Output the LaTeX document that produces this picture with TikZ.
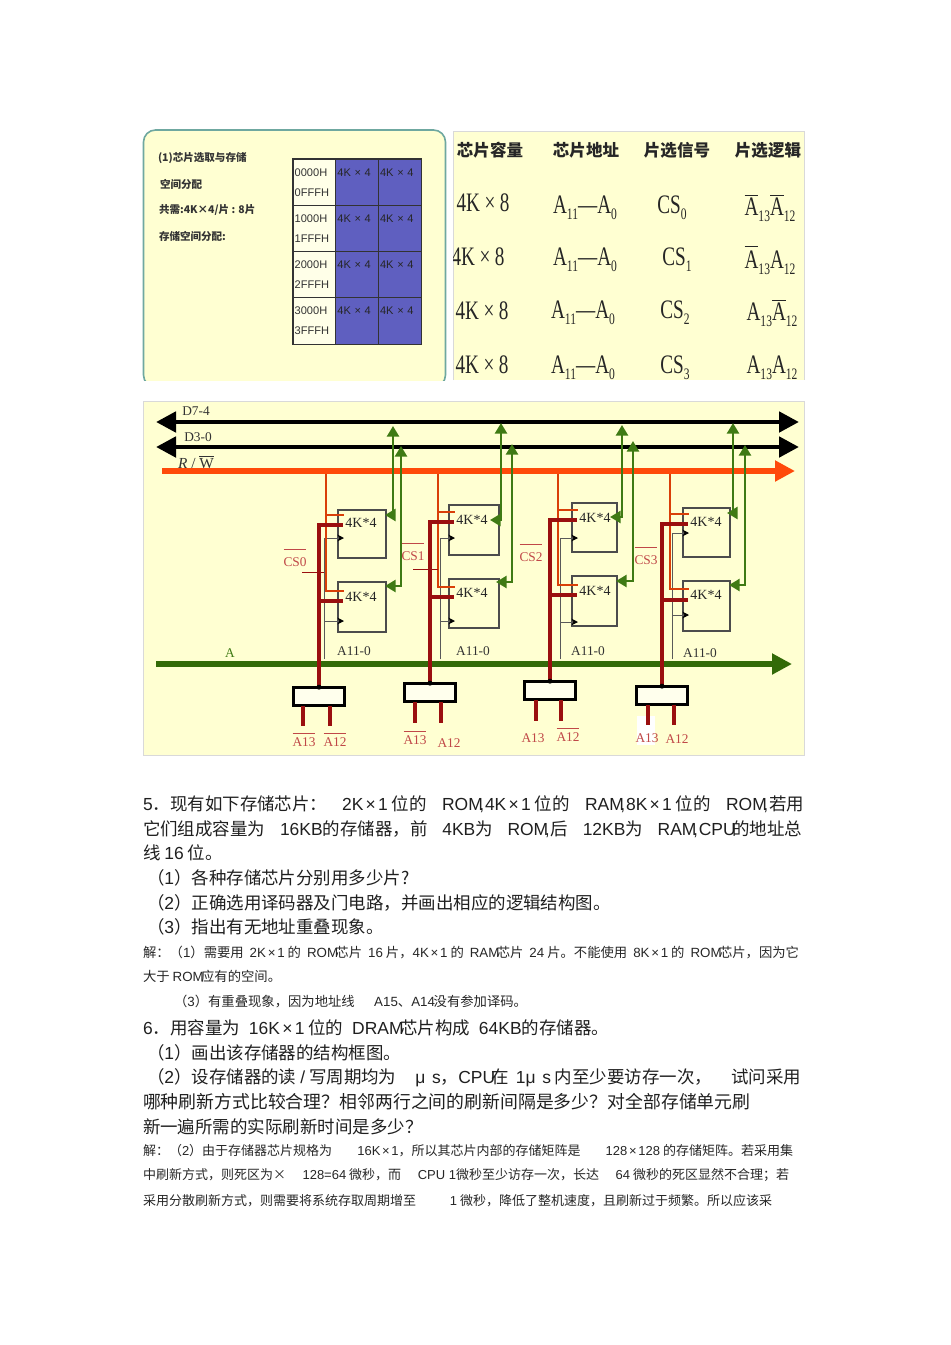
\documentclass[tikz,border=0pt]{standalone}
\usepackage{fontspec}
\usepackage{xcolor}
\usetikzlibrary{arrows.meta}
\setmainfont{Noto Sans CJK SC}
\newfontfamily\latinfont{Liberation Sans}
\newfontfamily\serifont{Liberation Serif}
\newfontfamily\narrowfont[FakeStretch=0.72]{Liberation Serif}
\definecolor{paper}{HTML}{FFFFD2}
\definecolor{slide}{HTML}{6FA8A0}
\definecolor{cellblue}{HTML}{5F5FC0}
\definecolor{rworange}{HTML}{FF4A0A}
\definecolor{csred}{HTML}{9A0F0F}
\definecolor{labred}{HTML}{C04848}
\definecolor{datagreen}{HTML}{3F7A14}
\definecolor{busgreen}{HTML}{336A08}
\newcommand{\lat}[1]{{\latinfont #1}}
\newcommand{\obar}[2]{\vbox{\hrule height .8pt\vskip#1\hbox{#2}}}
\newcommand{\lowsub}[1]{\raisebox{-4.5pt}{\fontsize{12}{12}\selectfont #1}}
\newcommand{\fitline}[2]{\hbox to \dimexpr#1pt*3/4\relax{#2}}
\newcommand{\ovc}{\kern-.2em,\kern.05em}
\newcommand{\xx}{\kern.13em×\kern.13em}
\begin{document}
\begin{tikzpicture}[
    x=0.75pt, y=-0.75pt,
    every node/.style={inner sep=0pt, outer sep=0pt},
    addrcell/.style={draw=black!80, line width=0.8pt, fill=paper!50!white, anchor=north west,
        minimum width=32pt, minimum height=34.8pt, text width=29.5pt, align=left, inner xsep=1.25pt,
        text=black!80, font=\latinfont\fontsize{8.3}{15}\selectfont},
    bluecell/.style={addrcell, fill=cellblue, text=black!85},
    slidetext/.style={anchor=west, font=\bfseries\fontsize{7.9}{10}\selectfont, text=black!80},
    headtext/.style={font=\bfseries\fontsize{12.4}{14}\selectfont, text=black!85},
    bigserif/.style={font=\narrowfont\fontsize{20}{22}\selectfont, text=black!85},
    chip/.style={draw=black!70, line width=0.8pt, anchor=north west},
    chiptext/.style={font=\serifont\fontsize{10.5}{12}\selectfont, text=black!85},
    buslab/.style={font=\serifont\fontsize{10}{12}\selectfont, text=black!80},
    cslab/.style={font=\serifont\fontsize{10}{12}\selectfont, text=labred},
    databus/.style={line width=3.6pt, black, {Triangle[length=15pt,width=15pt]}-{Triangle[length=15pt,width=15pt]}},
    rwbus/.style={line width=4.6pt, rworange, -{Triangle[length=15pt,width=15pt]}},
    abus/.style={line width=4.4pt, busgreen, -{Triangle[length=15pt,width=15pt]}},
    rwwire/.style={line width=1.8pt, rworange!85!black},
    cswire/.style={line width=2.9pt, csred},
    addrwire/.style={line width=0.7pt, black!65, -{Stealth[length=5pt,width=5pt,color=black]}},
    datawire/.style={line width=1.9pt, datagreen, {Triangle[length=8pt,width=9pt]}-{Triangle[length=8pt,width=9pt]}},
    decoder/.style={draw=black, line width=2.4pt, fill=paper!40!white, minimum width=38pt, minimum height=14pt},
    bigline/.style={anchor=west, font=\fontsize{13.1}{15}\selectfont, text=black!88},
    smallline/.style={anchor=west, font=\fontsize{10}{12}\selectfont, text=black!85},
    tightline/.style={smallline, font=\fontsize{9.75}{12}\selectfont}
]
\useasboundingbox (0,0) rectangle (950,1345);

\begin{scope}
\clip (140,125) rectangle (449,380);
\draw[draw=slide, line width=1.2pt, fill=paper, rounded corners=9pt] (143.5,130) rectangle (445.5,387);
\end{scope}
\node[slidetext] (tx1) at (158,158) {(1)芯片选取与存储};
\node[slidetext] (tx2) at (160,184) {空间分配};
\node[slidetext] (tx3) at (159,210) {共需:4K×4/片 : 8片};
\node[slidetext] (tx4) at (159,236) {存储空间分配:};
\foreach \r/\yy/\adda/\addb in {0/159/0000H/0FFFH, 1/205.3/1000H/1FFFH, 2/251.6/2000H/2FFFH, 3/297.9/3000H/3FFFH} {
    \node[addrcell] (addr\r) at (293,\yy) {\adda\\\addb};
    \node[bluecell] (bla\r) at (335.7,\yy) {4K × 4\\~};
    \node[bluecell] (blb\r) at (378.4,\yy) {4K × 4\\~};
}

\fill[paper] (453,131) rectangle (804,380);
\draw[black!15] (453,380) -- (453,131) -- (804,131) -- (804,380);
\node[headtext] (hd1) at (490,150) {芯片容量};
\node[headtext] (hd2) at (586,150) {芯片地址};
\node[headtext] (hd3) at (677,150) {片选信号};
\node[headtext] (hd4) at (768,150) {片选逻辑};
\begin{scope}
\clip (453,131) rectangle (804,380);
\foreach \r/\xa/\xb/\xc/\xd/\ya/\yb/\num/\sela/\selb in {
    0/483/585/672/770/203/208/0/{\obar{1.5pt}{A}}/{\obar{1.5pt}{A}},
    1/478/585/677/770/257/260/1/{\obar{3pt}{A}}/A,
    2/482/583/675/772/311/313/2/A/{\obar{1.5pt}{A}},
    3/482/583/675/772/365/368/3/A/A} {
    \node[bigserif] (cap\r) at (\xa,\ya) {4K\,×\,8};
    \node[bigserif] (adr\r) at (\xb,\yb) {A\lowsub{11}—A\lowsub{0}};
    \node[bigserif] (sig\r) at (\xc,\yb) {CS\lowsub{\num}};
    \node[bigserif] (sel\r) at (\xd,\yb) {\sela\lowsub{13}\selb\lowsub{12}};
}
\end{scope}

\draw[draw=black!15, fill=paper] (143,401) rectangle (804,755);
\fill[white] (637,716) rectangle (655,745);
\coordinate (d7l) at (156,422);
\coordinate (d7r) at (799,422);
\coordinate (d3l) at (156,447);
\coordinate (d3r) at (799,447);
\coordinate (rwl) at (162,471);
\coordinate (rwr) at (795,471);
\coordinate (al) at (156,664);
\coordinate (ar) at (792,664);
\node[buslab] (d7lab) at (196,411) {D7-4};
\node[buslab] (d3lab) at (198,437) {D3-0};
\node[buslab, font=\serifont\fontsize{11.5}{12}\selectfont] (rwlab) at (196,462) {\textit{R} / \obar{1pt}{W}};
\node[cslab, text=datagreen] (alab) at (230,653) {A};
\foreach \g/\rwx/\csx/\adx/\xl/\xr/\ya/\yb/\yc/\yd/\rwa/\rwb/\csa/\csb/\ada/\adb/\gax/\gay/\gae/\gat/\gbx/\gby/\gbe/\gbt/\decy/\pina/\pinb/\pine in {
    0/326/319/324/338/386/510/558/582/632/515/591/525/601/538/621/393/515/385/426/401/586/385/446/696.5/303/330/726,
    1/438/430/440/449/499/505/555/579/628/512/587/522/597/538/621/501/520/490/423/512/582/496/444/692.5/415/441/723,
    2/558/550/560/572/617/503/552/576/626/510/585/520/595/538/622/622/517/610/425/633/581/616/441/690.5/536/561/721,
    3/670/662/672/683/730/508/557/581/631/514/589/524/600/533/615/733/513/727/423/745/585/729/445/695.5/648/674/725} {
    \node[chip, minimum width={(\xr-\xl)*0.75pt}, minimum height={(\yb-\ya)*0.75pt}] (chipa\g) at (\xl,\ya) {};
    \node[chip, minimum width={(\xr-\xl)*0.75pt}, minimum height={(\yd-\yc)*0.75pt}] (chipb\g) at (\xl,\yc) {};
    \node[chiptext] (texta\g) at (\xl+23,\rwa+7.5) {4K*4};
    \node[chiptext] (textb\g) at (\xl+23,\rwb+5.5) {4K*4};
    \node[decoder] (dec\g) at (\csx,\decy) {};
    \coordinate (rwtop\g) at (\rwx,471);
    \coordinate (rwea\g) at (\xl+6,\rwa);
    \coordinate (rweb\g) at (\xl+6,\rwb);
    \coordinate (csea\g) at (\xl+5,\csa);
    \coordinate (cseb\g) at (\xl+5,\csb);
    \coordinate (adbot\g) at (\adx,659);
    \coordinate (adea\g) at (\xl+6,\ada);
    \coordinate (adeb\g) at (\xl+6,\adb);
    \coordinate (gea\g) at (\gae,\gay);
    \coordinate (gta\g) at (\gax,\gat);
    \coordinate (geb\g) at (\gbe,\gby);
    \coordinate (gtb\g) at (\gbx,\gbt);
    \coordinate (pina\g) at (\pina,\pine);
    \coordinate (pinb\g) at (\pinb,\pine);
    \draw[addrwire] (adbot\g) |- (adea\g);
    \draw[addrwire] (adbot\g) |- (adeb\g);
    \draw[rwwire] (rwtop\g) |- (rwea\g);
    \draw[rwwire] (rwtop\g) |- (rweb\g);
}
\draw[abus] (al) -- (ar);
\draw[databus] (d7l) -- (d7r);
\draw[databus] (d3l) -- (d3r);
\draw[rwbus] (rwl) -- (rwr);
\foreach \g in {0,1,2,3} {
    \draw[datawire] (gea\g) -| (gta\g);
    \draw[datawire] (geb\g) -| (gtb\g);
    \draw[cswire] (dec\g.north) |- (csea\g);
    \draw[cswire] (dec\g.north) |- (cseb\g);
    \draw[cswire] (pina\g |- dec\g.south) -- (pina\g);
    \draw[cswire] (pinb\g |- dec\g.south) -- (pinb\g);
    \fill[black] (dec\g.north) circle (2.5);
}
\foreach \g/\x/\y in {0/354/651, 1/473/651, 2/588/651, 3/700/653} {
    \node[buslab] (adlab\g) at (\x,\y) {A11-0};
}
\foreach \g/\x/\y/\cap in {0/295/558/CS0, 1/413/552/CS1, 2/531/553/CS2, 3/646/556/CS3} {
    \node[cslab] (cslab\g) at (\x,\y) {\obar{6pt}{\cap}};
}
\coordinate (tiea) at (302,572);
\coordinate (tieb) at (324,572);
\coordinate (tiec) at (413,569);
\coordinate (tied) at (438,569);
\draw[csred, line width=0.7pt] (tiea) -- (tieb);
\draw[csred, line width=0.7pt] (tiec) -- (tied);
\node[cslab] (low0a) at (304,740) {\obar{2.5pt}{A13}};
\node[cslab] (low0b) at (335,740) {\obar{2.5pt}{A12}};
\node[cslab] (low1a) at (415,738) {\obar{2.5pt}{A13}};
\node[cslab] (low1b) at (449,743) {A12};
\node[cslab] (low2a) at (533,738) {A13};
\node[cslab] (low2b) at (568,735) {\obar{2.5pt}{A12}};
\node[cslab] (low3a) at (647,738) {A13};
\node[cslab] (low3b) at (677,739) {A12};

\node[bigline] (ln1) at (143,804) {\fitline{661}{\lat{5}．现有如下存储芯片：\hspace{11pt}\lat{2K\xx 1} 位的\hfill\lat{ROM\ovc}\lat{4K\xx 1} 位的\hfill\lat{RAM\ovc}\lat{8K\xx 1} 位的\hfill\lat{ROM\ovc}若用}};
\node[bigline] (ln2) at (143,829) {\fitline{659}{它们组成容量为\hfill\lat{16KB}的存储器，前\hfill\lat{4KB}为\hfill\lat{ROM\ovc}后\hfill\lat{12KB}为\hfill\lat{RAM\ovc}\lat{CPU}\kern-.2em 的地址总}};
\node[bigline] (ln3) at (143,853) {线 \lat{16} 位。};
\node[bigline] (ln4) at (147,878) {（\lat{1}）各种存储芯片分别用多少片?};
\node[bigline] (ln5) at (147,903) {（\lat{2}）正确选用译码器及门电路，并画出相应的逻辑结构图。};
\node[bigline] (ln6) at (147,927) {（\lat{3}）指出有无地址重叠现象。};
\node[smallline] (ln7) at (143,952) {\fitline{656}{解：（\lat{1}）需要用\hfill\lat{2K\xx 1} 的\hfill\lat{ROM}\kern-.2em 芯片\hfill\lat{16} 片，\lat{4K\xx 1} 的\hfill\lat{RAM}\kern-.2em 芯片\hfill\lat{24} 片。不能使用\hfill\lat{8K\xx 1} 的\hfill\lat{ROM}\kern-.2em 芯片，因为它}};
\node[smallline] (ln8) at (143,976) {大于 \lat{ROM}\kern-.2em 应有的空间。};
\node[smallline] (ln9) at (174,1001) {\fitline{353}{（\lat{3}）有重叠现象，因为地址线\hfill\lat{A15}、\lat{A14}\kern-.1em 没有参加译码。}};
\node[bigline] (ln10) at (143,1028) {\fitline{466}{\lat{6}．用容量为\hfill\lat{16K\xx 1} 位的\hfill\lat{DRAM}\kern-.2em 芯片构成\hfill\lat{64KB}的存储器。}};
\node[bigline] (ln11) at (147,1053) {（\lat{1}）画出该存储器的结构框图。};
\node[bigline] (ln12) at (147,1078) {\fitline{654}{（\lat{2}）设存储器的读 \lat{/} 写周期均为\hfill\lat{μ\kern5pt s}，\lat{CPU}\kern-.2em 在\kern5pt\lat{1μ\kern5pt s} 内至少要访存一次，\hfill 试问采用}};
\node[bigline, font=\fontsize{13.4}{15}\selectfont] (ln13) at (143,1102) {哪种刷新方式比较合理？相邻两行之间的刷新间隔是多少？对全部存储单元刷};
\node[bigline] (ln14) at (143,1127) {新一遍所需的实际刷新时间是多少？};
\node[tightline] (ln15) at (143,1151) {\fitline{650}{解：（\lat{2}）由于存储器芯片规格为\hfill\lat{16K\xx 1}，所以其芯片内部的存储矩阵是\hfill\lat{128\xx 128} 的存储矩阵。若采用集}};
\node[tightline] (ln16) at (143,1175) {\fitline{646}{中刷新方式，则死区为×\hfill\lat{128=64} 微秒，而\hfill\lat{CPU 1}微秒至少访存一次，长达\hfill\lat{64} 微秒的死区显然不合理；若}};
\node[tightline] (ln17) at (143,1201) {\fitline{629}{采用分散刷新方式，则需要将系统存取周期增至\hfill\lat{1} 微秒，降低了整机速度，且刷新过于频繁。所以应该采}};
\end{tikzpicture}
\end{document}
